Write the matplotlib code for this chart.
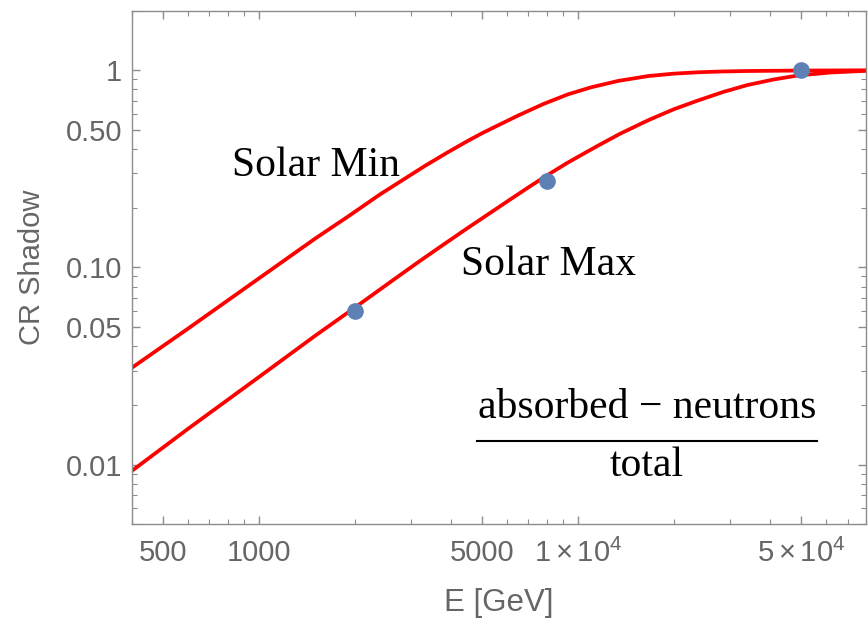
import matplotlib
matplotlib.use("Agg")
import matplotlib.pyplot as plt
from matplotlib.ticker import FixedLocator, LogLocator, NullFormatter, FixedFormatter

# Solar Min curve
e_min = [400, 600, 1000, 1500, 1900, 2400, 3300, 3900, 4500, 5000, 5500, 6500, 7800, 9300,
         11000, 13400, 16600, 20000, 23800, 28000, 34000, 49000, 80000]
y_min = [0.031, 0.049, 0.088, 0.14, 0.181, 0.235, 0.326, 0.383, 0.437, 0.479, 0.517, 0.59, 0.675,
         0.755, 0.82, 0.884, 0.935, 0.962, 0.977, 0.986, 0.992, 0.997, 1.0]

# Solar Max curve
e_max = [400, 600, 1000, 1500, 2000, 2600, 3200, 3800, 4500, 6000, 7000, 8000, 9200, 10400,
         11600, 13500, 16600, 20000, 23800, 28500, 34000, 41000, 49000, 62000, 80000]
y_max = [0.0093, 0.0152, 0.0278, 0.045, 0.0626, 0.085, 0.108, 0.131, 0.158, 0.216, 0.255, 0.293,
         0.337, 0.377, 0.416, 0.475, 0.558, 0.635, 0.703, 0.776, 0.842, 0.898, 0.942, 0.975, 0.994]

# measured points
e_pts = [2000, 8000, 50000]
y_pts = [0.0604, 0.273, 1.0]

x_ticks = [500, 1000, 5000, 10000, 50000]
x_labels = ['500', '1000', '5000', r'$1\times10^{4}$', r'$5\times10^{4}$']
y_ticks = [0.01, 0.05, 0.1, 0.5, 1]
y_labels = ['0.01', '0.05', '0.10', '0.50', '1']

plt.rcParams['font.family'] = ['Liberation Sans', 'DejaVu Sans']
plt.rcParams['mathtext.fontset'] = 'custom'
plt.rcParams['mathtext.rm'] = 'Liberation Sans'
plt.rcParams['mathtext.it'] = 'Liberation Sans'

gray = '#8c8c8c'
tgray = '#666666'

fig = plt.figure(figsize=(8.68, 6.23), dpi=100)
ax = fig.add_axes([0.152, 0.159, 0.8457, 0.8234])

ax.plot(e_min, y_min, color='#ff0000', lw=2.7)
ax.plot(e_max, y_max, color='#ff0000', lw=2.7)
ax.plot(e_pts, y_pts, 'o', color='#5e81b5', ms=11, zorder=3)

ax.set_xscale('log')
ax.set_yscale('log')
ax.set_xlim(400, 80000)
ax.set_ylim(0.005, 2)

ax.xaxis.set_major_locator(FixedLocator(x_ticks))
ax.xaxis.set_major_formatter(FixedFormatter(x_labels))
ax.xaxis.set_minor_locator(LogLocator(base=10, subs=range(1, 10), numticks=20))
ax.xaxis.set_minor_formatter(NullFormatter())
ax.yaxis.set_major_locator(FixedLocator(y_ticks))
ax.yaxis.set_major_formatter(FixedFormatter(y_labels))
ax.yaxis.set_minor_locator(LogLocator(base=10, subs=range(1, 10), numticks=20))
ax.yaxis.set_minor_formatter(NullFormatter())

for s in ax.spines.values():
    s.set_color(gray)
    s.set_linewidth(1.0)
ax.tick_params(which='both', direction='in', top=True, right=True, color=gray,
               labelcolor=tgray, labelsize=21)
ax.tick_params(which='major', length=6, width=1)
ax.tick_params(which='minor', length=3.5, width=0.8)
ax.tick_params(axis='x', pad=11)
ax.tick_params(axis='y', pad=7)

ax.set_xlabel('E [GeV]', fontsize=22.5, color=tgray, labelpad=14)
ax.set_ylabel('CR Shadow', fontsize=21, color=tgray, labelpad=14)

serif = ['Liberation Serif', 'DejaVu Serif']
ax.text(821, 0.291, 'Solar Min', fontsize=30, family=serif, va='baseline', ha='left')
ax.text(4295, 0.0918, 'Solar Max', fontsize=30, family=serif, va='baseline', ha='left')
ax.text(0.7016, 0.2066, 'absorbed \u2212 neutrons', fontsize=30, family=serif,
        ha='center', va='baseline', transform=ax.transAxes)
ax.text(0.7016, 0.0936, 'total', fontsize=30, family=serif,
        ha='center', va='baseline', transform=ax.transAxes)
ax.plot([0.470, 0.933], [0.1618, 0.1618], color='black', lw=1.5, transform=ax.transAxes)

fig.savefig('out.png', dpi=100)
